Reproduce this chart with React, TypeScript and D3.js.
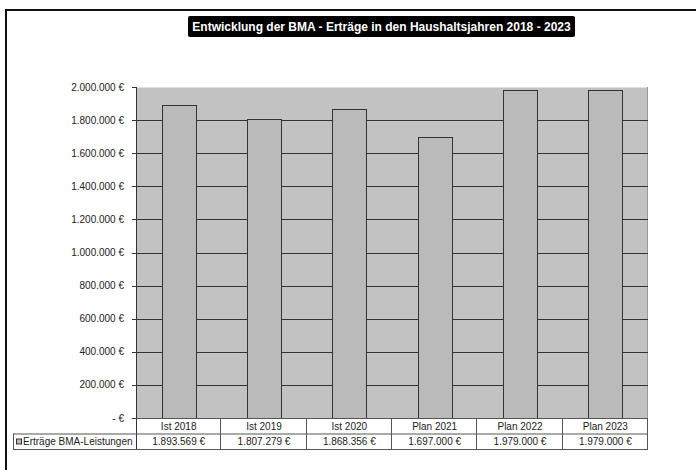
import React from "react";
import * as d3 from "d3";

const categories = ["Ist 2018", "Ist 2019", "Ist 2020", "Plan 2021", "Plan 2022", "Plan 2023"];
const values = [1893569, 1807279, 1868356, 1697000, 1979000, 1979000];
const yTicks = [0, 200000, 400000, 600000, 800000, 1000000, 1200000, 1400000, 1600000, 1800000, 2000000];
const seriesName = "Erträge BMA-Leistungen";
const title = "Entwicklung der BMA - Erträge in den Haushaltsjahren 2018 - 2023";

const fmtNum = (v: number) =>
  String(Math.round(v)).replace(/\B(?=(\d{3})+(?!\d))/g, ".");
const fmtTick = (v: number) => (v === 0 ? "-  €" : `${fmtNum(v)} €`);
const fmtVal = (v: number) => `${fmtNum(v)} €`;

const W = 696;
const H = 470;
const plot = { left: 136, right: 648, top: 87, bottom: 418 };
const rowH = 15.5;
const FONT = "'Liberation Sans', Arial, sans-serif";

export default function App() {
  const x = d3
    .scaleBand<string>()
    .domain(categories)
    .range([plot.left, plot.right])
    .paddingInner(0.6)
    .paddingOuter(0.3);
  const xCol = d3.scaleBand<string>().domain(categories).range([plot.left, plot.right]);
  const y = d3.scaleLinear().domain([0, 2000000]).range([plot.bottom, plot.top]);

  const row1Top = plot.bottom;
  const row2Top = plot.bottom + rowH;
  const row2Bot = row2Top + rowH;

  return (
    <svg
      width={W}
      height={H}
      style={{ position: "absolute", left: 0, top: 0, background: "#fff" }}
      fontFamily={FONT}
    >
      {/* chart frame */}
      <path d={`M6,${H} V10 H${W}`} fill="none" stroke="#111" strokeWidth={2} />

      {/* title */}
      <rect x={188} y={16} width={387} height={21} rx={2} fill="#000" />
      <text
        x={381.5}
        y={31}
        textAnchor="middle"
        fill="#fff"
        fontSize={12}
        fontWeight="bold"
      >
        {title}
      </text>

      {/* plot background */}
      <rect
        x={plot.left}
        y={plot.top}
        width={plot.right - plot.left}
        height={plot.bottom - plot.top}
        fill="#c2c2c2"
      />
      <line x1={plot.left} x2={plot.right} y1={plot.top + 0.5} y2={plot.top + 0.5} stroke="#e0e0e0" />
      <line x1={plot.right - 0.5} x2={plot.right - 0.5} y1={plot.top} y2={plot.bottom} stroke="#9a9a9a" />

      {/* gridlines and ticks */}
      {yTicks.map((t) => (
        <g key={t}>
          {t > 0 && t < 2000000 && (
            <line
              x1={plot.left}
              x2={plot.right}
              y1={Math.round(y(t)) + 0.5}
              y2={Math.round(y(t)) + 0.5}
              stroke="#333"
            />
          )}
          <line
            x1={plot.left - 4}
            x2={plot.left}
            y1={Math.round(y(t)) + 0.5}
            y2={Math.round(y(t)) + 0.5}
            stroke="#333"
          />
          <text
            x={124}
            y={y(t) + 3.5}
            textAnchor="end"
            fontSize={10}
            fill="#222"
          >
            {fmtTick(t)}
          </text>
        </g>
      ))}

      {/* bars */}
      {categories.map((c, i) => (
        <rect
          key={c}
          x={Math.round(x(c)!) + 0.5}
          y={Math.round(y(values[i])) + 0.5}
          width={Math.round(x.bandwidth())}
          height={Math.round(plot.bottom - y(values[i]))}
          fill="#bababa"
          stroke="#333"
        />
      ))}

      {/* value axis line */}
      <line x1={plot.left + 0.5} x2={plot.left + 0.5} y1={plot.top} y2={row2Bot} stroke="#333" />

      {/* data table */}
      <g stroke="#555" fill="none">
        <line x1={plot.left} x2={plot.right} y1={row1Top + 0.5} y2={row1Top + 0.5} />
        <line x1={13} x2={plot.right} y1={row2Top + 0.5} y2={row2Top + 0.5} />
        <line x1={13} x2={plot.right} y1={row2Bot + 0.5} y2={row2Bot + 0.5} />
        <line x1={13.5} x2={13.5} y1={row2Top} y2={row2Bot} />
        {categories.map((c) => (
          <line
            key={c}
            x1={Math.round(xCol(c)! + xCol.bandwidth()) - 0.5}
            x2={Math.round(xCol(c)! + xCol.bandwidth()) - 0.5}
            y1={row1Top}
            y2={row2Bot}
          />
        ))}
      </g>
      {categories.map((c, i) => (
        <g key={c} fontSize={10} fill="#222" textAnchor="middle">
          <text x={xCol(c)! + xCol.bandwidth() / 2} y={row1Top + 11.5}>
            {c}
          </text>
          <text x={xCol(c)! + xCol.bandwidth() / 2} y={row2Top + 11.5}>
            {fmtVal(values[i])}
          </text>
        </g>
      ))}

      {/* legend key in table */}
      <rect x={16.5} y={row2Top + 5.5} width={5} height={5} fill="#bababa" stroke="#333" />
      <text x={23} y={row2Top + 11.5} fontSize={10} fill="#222">
        {seriesName}
      </text>
    </svg>
  );
}
